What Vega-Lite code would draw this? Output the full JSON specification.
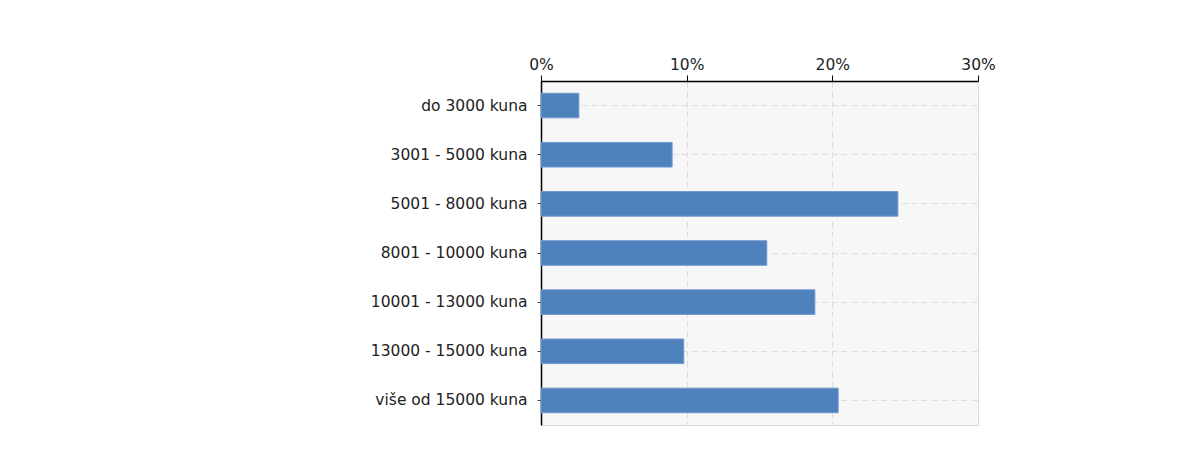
{
  "$schema": "https://vega.github.io/schema/vega-lite/v6.json",
  "autosize": {"type": "none"},
  "width": 437,
  "height": 344,
  "padding": {"left": 541, "top": 81, "right": 206, "bottom": 29},
  "background": "#ffffff",
  "data": {
    "values": [
      {"kategorija": "do 3000 kuna", "postotak": 2.6},
      {"kategorija": "3001 - 5000 kuna", "postotak": 9.0},
      {"kategorija": "5001 - 8000 kuna", "postotak": 24.5},
      {"kategorija": "8001 - 10000 kuna", "postotak": 15.5},
      {"kategorija": "10001 - 13000 kuna", "postotak": 18.8},
      {"kategorija": "13000 - 15000 kuna", "postotak": 9.8},
      {"kategorija": "više od 15000 kuna", "postotak": 20.4}
    ]
  },
  "mark": {"type": "bar", "color": "#4f81bd", "stroke": "#6d98cf", "strokeWidth": 1},
  "encoding": {
    "y": {
      "field": "kategorija",
      "type": "nominal",
      "sort": null,
      "scale": {"paddingInner": 0.5, "paddingOuter": 0.25},
      "axis": {
        "title": null,
        "bandPosition": 0.5,
        "domainColor": "#000000",
        "domainWidth": 1.5,
        "tickColor": "#444444",
        "tickSize": 4,
        "labelPadding": 10,
        "labelFont": "DejaVu Sans",
        "labelFontSize": 15.5,
        "labelColor": "#222222",
        "grid": true,
        "gridColor": "#dddddd",
        "gridDash": [6, 4],
        "gridWidth": 1
      }
    },
    "x": {
      "field": "postotak",
      "type": "quantitative",
      "scale": {"domain": [0, 30], "nice": false},
      "axis": {
        "orient": "top",
        "title": null,
        "values": [0, 10, 20, 30],
        "labelExpr": "datum.value + '%'",
        "domainColor": "#000000",
        "domainWidth": 1.5,
        "tickColor": "#000000",
        "tickSize": 6,
        "labelPadding": 3,
        "labelFont": "DejaVu Sans",
        "labelFontSize": 15.5,
        "labelColor": "#222222",
        "labelFlush": false,
        "grid": true,
        "gridColor": "#dddddd",
        "gridDash": [6, 4],
        "gridWidth": 1
      }
    }
  },
  "config": {
    "view": {"fill": "#f7f7f7", "stroke": "#d6d6d6", "strokeWidth": 1}
  }
}
